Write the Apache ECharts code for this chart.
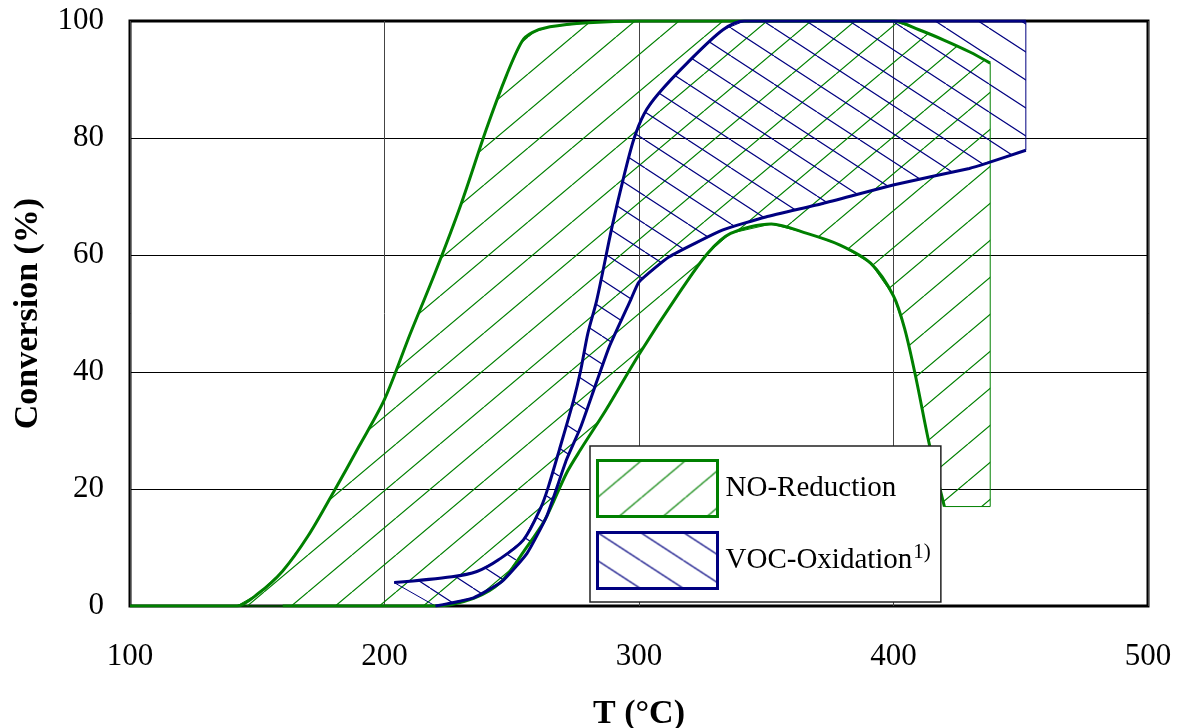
<!DOCTYPE html>
<html>
<head>
<meta charset="utf-8">
<script src="https://cdn.jsdelivr.net/npm/echarts@6/dist/echarts.min.js"></script>
<style>
html, body { margin: 0; padding: 0; background: #fff; }
#chart { width: 1181px; height: 728px; }
</style>
</head>
<body>
<div id="chart"></div>
<script>
// NO-Reduction band: upper and lower conversion curves [T, %]
var noUpper = [
    [100, 0], [142, 0], [150, 2], [160, 6], [170, 12], [180, 19.5], [190, 27.3],
    [200, 35.3], [210, 46.4], [220, 57.1], [230, 68.6], [240, 81.5], [248, 90.8],
    [254, 96.5], [258, 98], [265, 99], [280, 99.7], [300, 100], [340, 100],
    [400, 100], [410, 98.5], [420, 96.7], [430, 94.7], [438, 92.8]
]
var noLower = [
    [160, 0], [220, 0], [235, 1.3], [246, 4.2], [255, 9.5], [263, 14.7],
    [271.5, 22.7], [277, 26.7], [287, 33.5], [300, 43], [315, 53], [327, 60.3],
    [336, 63.7], [352, 65.3], [366, 63.7], [379, 61.7], [391, 58.6], [400, 53],
    [404.5, 47.2], [409, 38.6], [414, 27.8], [420, 17]
]
// right-hand closing edge of the NO band
var noEdge = [[438, 17], [420, 17]]

// VOC-Oxidation band
var vocUpper = [
    [203.8, 4], [226.5, 5], [236.3, 5.9], [244.8, 7.9], [254.6, 11.3], [261.6, 17],
    [264.4, 20.4], [268.7, 26.7], [274.3, 35.2], [277.1, 40.3], [279.9, 46.6],
    [283.4, 52.3], [289.4, 64.8], [293.7, 72.8], [297.9, 79.7], [302.1, 84.2],
    [307.7, 87.6], [318.9, 92.8], [333, 98.5], [341.4, 100], [452, 100]
]
var vocLower = [
    [220, 0], [235, 1.4], [246.2, 4.2], [256, 9], [263.7, 15.3], [271.5, 25],
    [277.1, 30.6], [282.7, 37.5], [288.3, 44.3], [296.7, 52.3], [300, 55.4],
    [311.9, 59.7], [333, 64.3], [349.8, 66.5], [372.2, 68.8], [400.3, 72],
    [429.8, 74.8], [436.7, 75.7], [452, 77.9]
]

var xTicks = [100, 200, 300, 400, 500]
var yTicks = [0, 20, 40, 60, 80, 100]

var green = '#008000'
var navy = '#000080'
var serif = '"Liberation Serif", "Times New Roman", serif'

// simple hatch pattern, dir 1 = '/', -1 = '\'
function hatch(color, w, h, dir) {
    var c = document.createElement('canvas')
    c.width = w
    c.height = h
    var ctx = c.getContext('2d')
    ctx.strokeStyle = color
    ctx.lineWidth = 1.2
    ctx.beginPath()
    for (var k = -1; k <= 1; k++) {
        if (dir > 0) {
            ctx.moveTo(k * w, h)
            ctx.lineTo(k * w + w, 0)
        } else {
            ctx.moveTo(k * w, 0)
            ctx.lineTo(k * w + w, h)
        }
    }
    ctx.stroke()
    return { image: c, repeat: 'repeat' }
}

var greenHatch = hatch(green, 44, 37, 1)
var navyHatch = hatch(navy, 43, 28, -1)

var noPoly = noUpper.concat(noEdge, noLower.slice().reverse())
var vocPoly = vocUpper.concat(vocLower.slice().reverse())

function band(poly, fill, stroke) {
    return function (params, api) {
        var pts = poly.map(function (p) { return api.coord(p) })
        return {
            type: 'polygon',
            shape: { points: pts },
            style: { fill: fill, stroke: stroke, lineWidth: 1 }
        }
    }
}

function curve(name, data, color, smooth) {
    return {
        name: name, type: 'line', data: data, showSymbol: false,
        smooth: smooth,
        lineStyle: { color: color, width: 3 }, z: 3, silent: true
    }
}

var myChart = echarts.init(document.getElementById('chart'))
var option = {
    animation: false,
    backgroundColor: '#fff',
    grid: {
        left: 130, right: 33, top: 21, bottom: 122,
        outerBoundsMode: 'none',
        show: true, borderColor: '#000', borderWidth: 3
    },
    legend: {
        left: 590, top: 446,
        orient: 'vertical',
        icon: 'rect',
        itemWidth: 120, itemHeight: 56, itemGap: 13,
        padding: [13, 10, 12, 6],
        backgroundColor: '#fff',
        borderColor: '#222', borderWidth: 1.5,
        data: [
            { name: 'NO-Reduction', itemStyle: { color: greenHatch, borderColor: green, borderWidth: 3 } },
            { name: 'VOC-Oxidation', itemStyle: { color: navyHatch, borderColor: navy, borderWidth: 3 } }
        ],
        formatter: function (name) {
            return name === 'VOC-Oxidation' ? '{t|VOC-Oxidation}{s|1)}' : '{t|' + name + '}'
        },
        textStyle: {
            color: '#000',
            rich: {
                t: { fontSize: 29, lineHeight: 38, fontFamily: serif, color: '#000', padding: [0, 0, 0, 3] },
                s: { fontSize: 21, lineHeight: 21, fontFamily: serif, color: '#000', verticalAlign: 'top', padding: [0, 0, 0, 1] }
            }
        }
    },
    xAxis: {
        type: 'value',
        min: 100, max: 500, interval: 100,
        name: 'T (°C)',
        nameLocation: 'middle',
        nameGap: 91,
        nameTextStyle: { fontSize: 34, fontWeight: 'bold', fontFamily: serif, color: '#000' },
        axisLine: { show: false },
        axisTick: { show: false },
        axisLabel: {
            margin: 35, fontSize: 31, fontFamily: serif, color: '#000',
            customValues: xTicks
        },
        splitLine: { show: true, lineStyle: { color: '#444', width: 1 } }
    },
    yAxis: {
        type: 'value',
        min: 0, max: 100, interval: 20,
        name: 'Conversion (%)',
        nameLocation: 'middle',
        nameGap: 85,
        nameTextStyle: { fontSize: 34, fontWeight: 'bold', fontFamily: serif, color: '#000' },
        axisLine: { show: false },
        axisTick: { show: false },
        axisLabel: {
            margin: 26, fontSize: 31, fontFamily: serif, color: '#000',
            customValues: yTicks
        },
        splitLine: { show: true, lineStyle: { color: '#000', width: 1 } }
    },
    series: [
        {
            name: 'NO-Reduction',
            type: 'custom',
            renderItem: band(noPoly, greenHatch, green),
            itemStyle: { color: greenHatch, borderColor: green },
            data: [[100, 0]],
            z: 1,
            silent: true
        },
        {
            name: 'VOC-Oxidation',
            type: 'custom',
            renderItem: band(vocPoly, navyHatch, navy),
            itemStyle: { color: navyHatch, borderColor: navy },
            data: [[100, 0]],
            z: 1,
            silent: true
        },
        curve('NO upper', noUpper, green, 0.3),
        curve('NO lower', noLower, green, 0.3),
        curve('VOC upper', vocUpper, navy, 0.3),
        curve('VOC lower', vocLower, navy, 0.15)
    ]
}
myChart.setOption(option)

window.addEventListener('resize', function () {
    myChart.resize()
})
</script>
</body>
</html>
